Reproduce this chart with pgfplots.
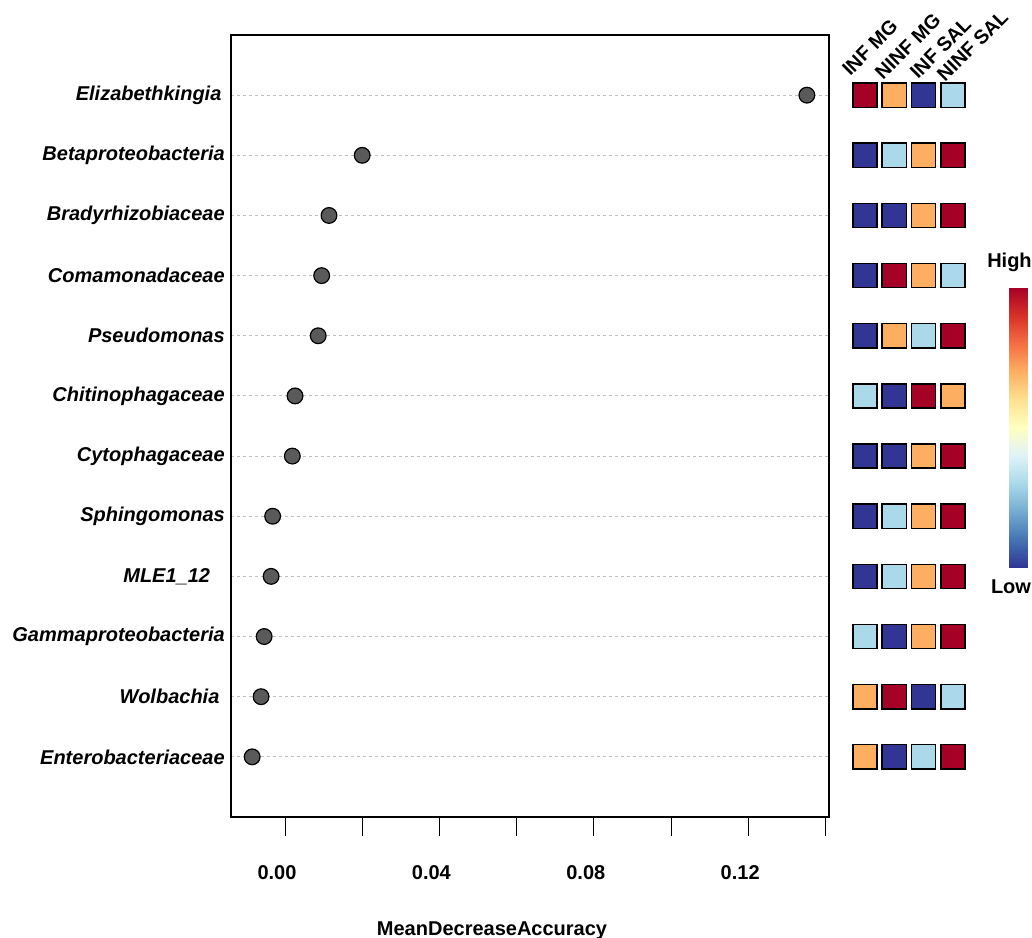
\documentclass[border=0pt]{standalone}
\usepackage{pgfplots}
\pgfplotsset{compat=1.18}
\usepackage{fontspec}
\setmainfont{Liberation Sans}

\definecolor{dotgray}{RGB}{90,90,90}
\definecolor{hmred}{RGB}{165,0,38}
\definecolor{hmorange}{RGB}{253,174,97}
\definecolor{hmlblue}{RGB}{171,217,233}
\definecolor{hmdblue}{RGB}{49,54,149}
\definecolor{gridgray}{RGB}{190,190,190}

\newcommand\lbl{\fontsize{15}{18}\selectfont\bfseries}
\newcommand\collbl{\fontsize{14.8}{17}\selectfont\bfseries}

\begin{document}
\begin{tikzpicture}
\useasboundingbox (0,0) rectangle (774pt,-703.5pt);

% dot chart
\begin{axis}[
 at={(173.25pt,-26.25pt)}, anchor=north west,
 scale only axis, width=448.5pt, height=586.5pt,
 xmin=-0.01399, xmax=0.14093, ymin=0, ymax=13,
 axis line style={black, line width=1.1pt},
 tick align=outside, major tick length=14.25pt,
 xtick pos=bottom, ytick pos=left,
 xtick={0,0.02,0.04,0.06,0.08,0.10,0.12,0.14},
 xticklabels={0.00,,0.04,,0.08,,0.12,},
 xtick style={black, line width=0.75pt},
 xticklabel style={font=\lbl, inner sep=0pt, anchor=north, yshift=-22pt, xshift=-6pt},
 ytick={1,...,12},
 yticklabels={Enterobacteriaceae, Wolbachia\rule{4pt}{0pt}, Gammaproteobacteria, MLE1\_12\rule{11pt}{0pt}, Sphingomonas, Cytophagaceae, Chitinophagaceae, Pseudomonas, Comamonadaceae, Bradyrhizobiaceae, Betaproteobacteria, Elizabethkingia\rule{2.5pt}{0pt}},
 ytick style={draw=none},
 yticklabel style={font=\lbl\itshape, inner sep=0pt, anchor=east, xshift=9.75pt},
 ymajorgrids,
 grid style={gridgray, line width=0.75pt, dash pattern=on 2.25pt off 2.25pt},
 xlabel={MeanDecreaseAccuracy},
 xlabel style={font=\lbl, inner sep=0pt, anchor=north, at={(axis description cs:0.4365,-0.133)}},
]
\addplot[only marks, mark=*, mark size=5.9pt,
 mark options={fill=dotgray, draw=black, line width=0.9pt}] coordinates {
 (0.1352,12) (0.0200,11) (0.0114,10) (0.0095,9) (0.0086,8) (0.0026,7)
 (0.0019,6) (-0.0032,5) (-0.0036,4) (-0.0054,3) (-0.0062,2) (-0.0085,1)
};
\end{axis}

% heatmap of group levels
\begin{axis}[
 at={(637.76pt,-26.25pt)}, anchor=north west,
 scale only axis, width=87.9pt, height=586.5pt,
 xmin=0.5, xmax=4.5, ymin=0, ymax=13,
 axis line style={draw=none}, xtick=\empty, ytick=\empty,
 clip=false,
 colormap={rdylbu}{rgb255=(49,54,149) rgb255=(69,117,180) rgb255=(116,173,209)
   rgb255=(171,217,233) rgb255=(224,243,248) rgb255=(255,255,191) rgb255=(254,224,144)
   rgb255=(253,174,97) rgb255=(244,109,67) rgb255=(215,48,39) rgb255=(165,0,38)},
 colorbar, point meta min=0, point meta max=1,
 colorbar style={at={(parent axis.north east)}, anchor=north west,
   xshift=22.55pt, yshift=-189pt, scale only axis, width=14.25pt, height=210pt,
   ytick=\empty, xtick=\empty, axis line style={draw=none}},
]
\addplot[only marks, mark=square*, mark size=9.1pt,
 mark options={fill=hmred, draw=black, line width=1.1pt}] coordinates {
 (1,12) (4,11) (4,10) (2,9) (4,8) (3,7) (4,6) (4,5) (4,4) (4,3) (2,2) (4,1)
};
\addplot[only marks, mark=square*, mark size=9.1pt,
 mark options={fill=hmorange, draw=black, line width=1.1pt}] coordinates {
 (2,12) (3,11) (3,10) (3,9) (2,8) (4,7) (3,6) (3,5) (3,4) (3,3) (1,2) (1,1)
};
\addplot[only marks, mark=square*, mark size=9.1pt,
 mark options={fill=hmlblue, draw=black, line width=1.1pt}] coordinates {
 (4,12) (2,11) (4,9) (3,8) (1,7) (2,5) (2,4) (1,3) (4,2) (3,1)
};
\addplot[only marks, mark=square*, mark size=9.1pt,
 mark options={fill=hmdblue, draw=black, line width=1.1pt}] coordinates {
 (3,12) (1,11) (1,10) (2,10) (1,9) (1,8) (2,7) (1,6) (2,6) (1,5) (1,4) (2,3) (3,2) (2,1)
};
\node[rotate=45, anchor=base west, inner sep=0pt, font=\collbl] at (axis cs:0.49,12.30) {INF MG};
\node[rotate=45, anchor=base west, inner sep=0pt, font=\collbl] at (axis cs:1.614,12.24) {NINF MG};
\node[rotate=45, anchor=base west, inner sep=0pt, font=\collbl] at (axis cs:2.809,12.25) {INF SAL};
\node[rotate=45, anchor=base west, inner sep=0pt, font=\collbl] at (axis cs:3.73,12.20) {NINF SAL};
\end{axis}

\node[anchor=north, inner sep=0pt, font=\lbl] at (757.1pt,-189.75pt) {High};
\node[anchor=north, inner sep=0pt, font=\lbl] at (758.25pt,-434.25pt) {Low};
\end{tikzpicture}
\end{document}
